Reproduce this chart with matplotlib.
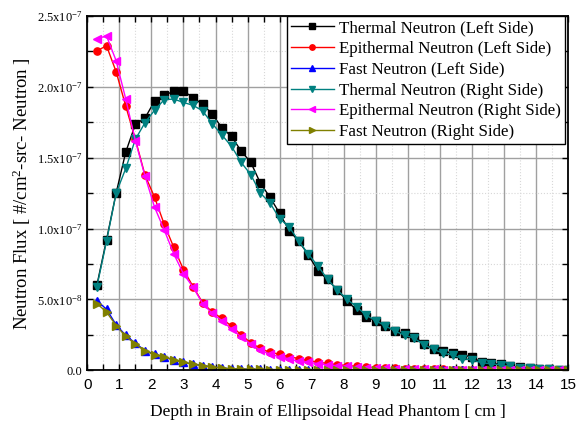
import numpy as np
import matplotlib
matplotlib.use("Agg")
import matplotlib.pyplot as plt
from matplotlib.ticker import MultipleLocator, FuncFormatter

plt.rcParams['font.family'] = ['Liberation Serif', 'DejaVu Serif']
plt.rcParams['mathtext.fontset'] = 'custom'
plt.rcParams['mathtext.rm'] = 'Liberation Serif'
plt.rcParams['mathtext.it'] = 'Liberation Serif:italic'

# depth positions (cm)
depth = [0.3, 0.6, 0.9, 1.2, 1.5, 1.8, 2.1, 2.4, 2.7, 3.0,
         3.3, 3.6, 3.9, 4.2, 4.5, 4.8, 5.1, 5.4, 5.7, 6.0,
         6.3, 6.6, 6.9, 7.2, 7.5, 7.8, 8.1, 8.4, 8.7, 9.0,
         9.3, 9.6, 9.9, 10.2, 10.5, 10.8, 11.1, 11.4, 11.7, 12.0,
         12.3, 12.6, 12.9, 13.2, 13.5, 13.8, 14.1, 14.4, 14.7, 15.0]

# flux values in units of 1e-8 #/cm^2-src-neutron
thermal_left = [6.0, 9.2, 12.5, 15.4, 17.35, 17.8, 19.0, 19.4, 19.7, 19.7,
                19.25, 18.76, 18.08, 17.1, 16.5, 15.47, 14.67, 13.2, 12.2, 11.07,
                9.84, 9.1, 8.12, 6.99, 6.4, 5.65, 4.9, 4.24, 3.77, 3.48,
                3.13, 2.75, 2.59, 2.35, 1.88, 1.46, 1.36, 1.18, 1.1, 0.9,
                0.55, 0.47, 0.42, 0.3, 0.2, 0.13, 0.09, 0.06, 0.04, 0.03]
epi_left = [22.55, 22.9, 21.07, 18.64, 16.3, 13.77, 12.2, 10.3, 8.66, 7.1,
            5.9, 4.75, 4.1, 3.65, 3.1, 2.5, 1.93, 1.53, 1.25, 1.13,
            0.94, 0.82, 0.68, 0.56, 0.47, 0.39, 0.32, 0.27, 0.22, 0.18,
            0.15, 0.12, 0.10, 0.08, 0.07, 0.06, 0.05, 0.04, 0.035, 0.03,
            0.025, 0.02, 0.018, 0.015, 0.012, 0.01, 0.009, 0.008, 0.007, 0.006]
fast_left = [4.9, 4.3, 3.2, 2.45, 1.9, 1.38, 1.12, 0.95, 0.72, 0.56,
             0.43, 0.32, 0.24, 0.15, 0.1, 0.08, 0.065, 0.05, 0.04, 0.035,
             0.03, 0.025, 0.02, 0.018, 0.015, 0.013, 0.011, 0.01, 0.009, 0.008,
             0.007, 0.006, 0.005, 0.005, 0.004, 0.004, 0.003, 0.003, 0.003, 0.002,
             0.002, 0.002, 0.002, 0.001, 0.001, 0.001, 0.001, 0.001, 0.001, 0.001]
thermal_right = [5.9, 9.1, 12.5, 14.24, 16.3, 17.47, 18.36, 19.1, 19.14, 18.9,
                 18.7, 18.3, 17.4, 16.6, 15.8, 14.67, 13.8, 12.5, 11.8, 10.7,
                 10.1, 9.1, 8.17, 7.34, 6.4, 5.65, 5.01, 4.47, 3.88, 3.48,
                 3.13, 2.75, 2.47, 2.24, 1.8, 1.46, 1.2, 1.06, 0.82, 0.72,
                 0.52, 0.45, 0.36, 0.27, 0.18, 0.12, 0.08, 0.05, 0.03, 0.02]
epi_right = [23.4, 23.6, 21.85, 19.14, 16.2, 13.7, 11.5, 9.9, 8.2, 6.8,
             5.85, 4.7, 4.0, 3.5, 2.9, 2.35, 1.84, 1.41, 1.13, 0.94,
             0.8, 0.61, 0.55, 0.46, 0.38, 0.31, 0.26, 0.21, 0.18, 0.15,
             0.12, 0.10, 0.08, 0.07, 0.06, 0.05, 0.04, 0.035, 0.03, 0.025,
             0.02, 0.018, 0.015, 0.012, 0.01, 0.009, 0.008, 0.007, 0.006, 0.005]
fast_right = [4.7, 4.1, 3.15, 2.38, 1.85, 1.34, 1.08, 0.92, 0.7, 0.54,
              0.41, 0.3, 0.22, 0.14, 0.09, 0.07, 0.06, 0.045, 0.038, 0.032,
              0.028, 0.023, 0.019, 0.016, 0.014, 0.012, 0.01, 0.009, 0.008, 0.007,
              0.006, 0.005, 0.005, 0.004, 0.004, 0.003, 0.003, 0.003, 0.002, 0.002,
              0.002, 0.002, 0.001, 0.001, 0.001, 0.001, 0.001, 0.001, 0.001, 0.001]

series = [
    ("Thermal Neutron (Left Side)", thermal_left, "black", "s"),
    ("Epithermal Neutron (Left Side)", epi_left, "#ff0000", "o"),
    ("Fast Neutron (Left Side)", fast_left, "#0000ff", "^"),
    ("Thermal Neutron (Right Side)", thermal_right, "#008080", "v"),
    ("Epithermal Neutron (Right Side)", epi_right, "#ff00ff", "<"),
    ("Fast Neutron (Right Side)", fast_right, "#808000", ">"),
]

fig = plt.figure(figsize=(5.78, 4.23), dpi=100)
ax = fig.add_axes([0.151, 0.125, 0.832, 0.837])

x = np.array(depth)
for label, vals, color, marker in series:
    ax.plot(x, np.array(vals) * 1e-8, color=color, marker=marker, markersize=5.2,
            linewidth=1, label=label)

ax.set_xlim(0, 15)
ax.set_ylim(0, 2.5e-7)
ax.xaxis.set_major_locator(MultipleLocator(1))
ax.xaxis.set_minor_locator(MultipleLocator(0.5))
ax.yaxis.set_major_locator(MultipleLocator(5e-8))
ax.yaxis.set_minor_locator(MultipleLocator(2.5e-8))


def yfmt(v, pos):
    if v < 1e-12:
        return "0.0"
    exp = int(np.floor(np.log10(v) + 1e-9))
    return r"%.1fx10$^{%d}$" % (v / 10 ** exp, exp)


ax.yaxis.set_major_formatter(FuncFormatter(yfmt))

ax.grid(True, which='major', color='#a0a0a0', linewidth=1, linestyle='-')
ax.grid(True, which='minor', color='#d8d8d8', linewidth=0.8, linestyle=':')
ax.set_axisbelow(True)

ax.tick_params(which='both', direction='in', top=True, right=True, length=4,
               width=1, color='black')
ax.tick_params(axis='y', labelsize=9)
ax.tick_params(axis='x', labelsize=11, pad=6)
for lab in ax.get_xticklabels():
    lab.set_family('Liberation Sans')
for sp in ax.spines.values():
    sp.set_linewidth(1.3)

ax.set_xlabel("Depth in Brain of Ellipsoidal Head Phantom [ cm ]", fontsize=12.5,
              labelpad=8)
ax.set_ylabel(r"Neutron Flux [ #/cm$^{2}$-src- Neutron ]", fontsize=13.5,
              labelpad=3)

leg = ax.legend(loc='upper right', fontsize=12.2, frameon=True, fancybox=False,
                edgecolor='black', framealpha=1, borderaxespad=0.0,
                bbox_to_anchor=(0.993, 1.0), markerscale=0.75,
                labelspacing=0.28, handlelength=2.5, handletextpad=0.3,
                borderpad=0.25)
leg.get_frame().set_linewidth(1.0)

fig.savefig("out.png", dpi=100)
